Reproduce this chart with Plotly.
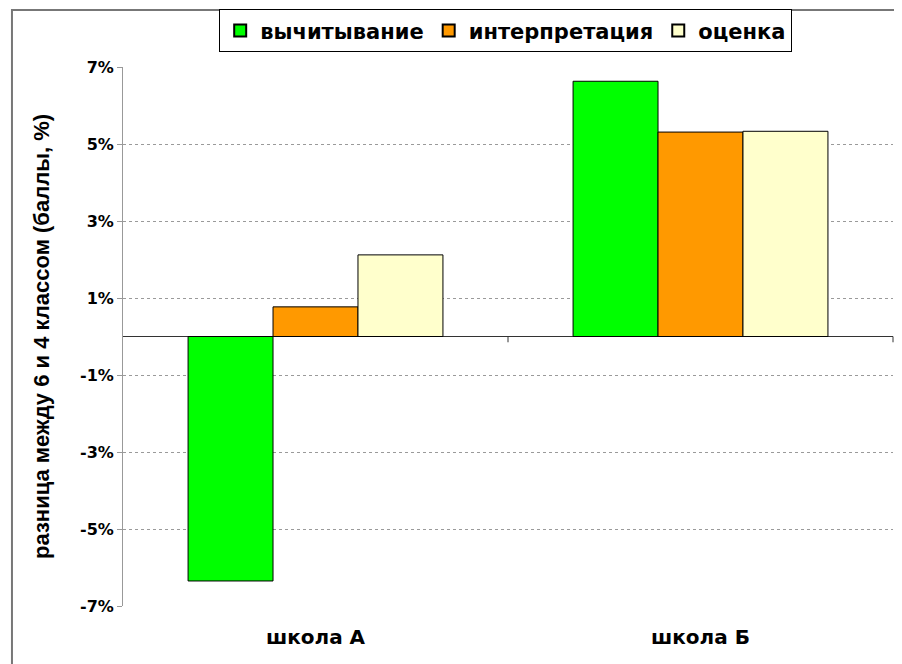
import plotly.graph_objects as go

categories = ["школа А", "школа Б"]
series_names = ["вычитывание", "интерпретация", "оценка"]
vychityvanie = [-6.35, 6.63]
interpretatsiya = [0.77, 5.31]
otsenka = [2.12, 5.33]
series_values = [vychityvanie, interpretatsiya, otsenka]
colors = ["#00FF00", "#FF9900", "#FFFFCC"]
y_ticks = [-7, -5, -3, -1, 1, 3, 5, 7]
y_tick_labels = ["-7%", "-5%", "-3%", "-1%", "1%", "3%", "5%", "7%"]
y_title = "разница между 6 и 4 классом (баллы, %)"

FONT = "DejaVu Sans, Liberation Sans, Arial, sans-serif"

fig = go.Figure()
for name, vals, col in zip(series_names, series_values, colors):
    fig.add_trace(go.Bar(
        x=categories, y=vals, name=name,
        marker=dict(color=col, line=dict(color="#000000", width=1)),
    ))

fig.update_layout(
    width=894, height=656,
    margin=dict(l=115, r=9, t=59, b=58, autoexpand=False),
    paper_bgcolor="white", plot_bgcolor="white",
    barmode="group", bargap=0.338, bargroupgap=0,
    font=dict(family=FONT, color="#000000", weight="bold"),
    showlegend=True,
    legend=dict(
        orientation="h", x=0.497, xanchor="center",
        yref="container", y=0.998, yanchor="top",
        bordercolor="#000000", borderwidth=1, bgcolor="white",
        font=dict(family=FONT, size=21, weight="bold"),
        itemsizing="constant", tracegroupgap=0,
    ),
    xaxis=dict(
        showgrid=False, showline=False, zeroline=False,
        ticks="outside", ticklen=13, tickcolor="rgba(0,0,0,0)",
        tickfont=dict(family=FONT, size=20, weight="bold"),
    ),
    yaxis=dict(
        range=[-7, 7], tickvals=y_ticks, ticktext=y_tick_labels,
        showgrid=True, gridcolor="#9a9a9a", griddash="dot", gridwidth=1,
        zeroline=True, zerolinecolor="#333333", zerolinewidth=1,
        showline=True, linecolor="#999999", linewidth=1,
        ticks="outside", ticklen=5, tickcolor="#999999",
        tickfont=dict(family=FONT, size=16, weight="bold"),
        title=dict(text=y_title, standoff=24,
                   font=dict(family="Liberation Sans Narrow, Arial Narrow, Liberation Sans, sans-serif",
                             size=22, weight="bold")),
    ),
    shapes=[
        dict(type="rect", xref="paper", yref="paper",
             x0=-0.1442, x1=1.5, y0=-0.5, y1=1.1057,
             line=dict(color="#777777", width=2), layer="below"),
        dict(type="line", xref="paper", yref="y", x0=0.5, x1=0.5, y0=0, y1=-0.15,
             line=dict(color="#333333", width=1)),
        dict(type="line", xref="paper", yref="y", x0=1, x1=1, y0=0, y1=-0.15,
             line=dict(color="#333333", width=1)),
    ],
)

fig.write_html("out.html")
